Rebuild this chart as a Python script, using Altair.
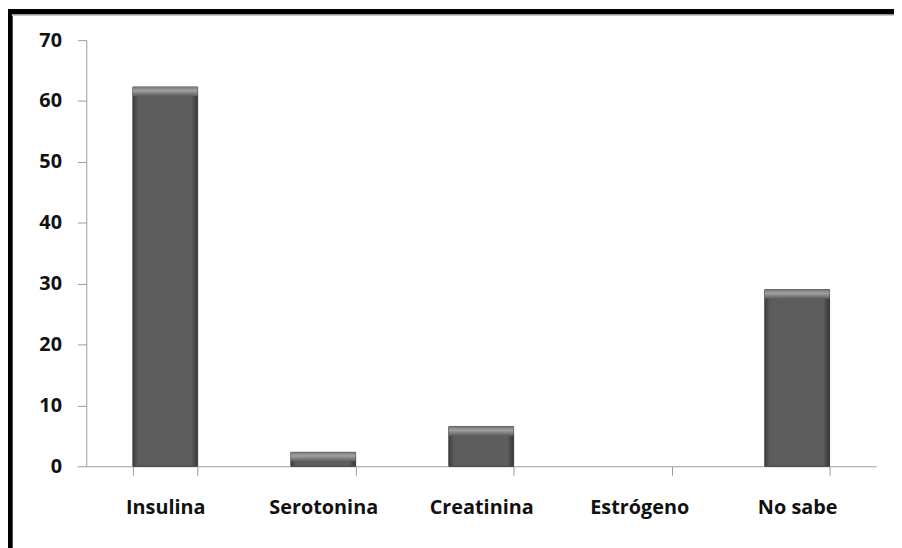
import altair as alt
import pandas as pd

categories = ["Insulina", "Serotonina", "Creatinina", "Estrógeno", "No sabe"]
values = [62.3, 2.3, 6.5, 0.0, 29.0]
y_ticks = [0, 10, 20, 30, 40, 50, 60, 70]

df = pd.DataFrame({"cat": categories, "val": values})

FONT = "Open Sans"

x_enc = alt.X("cat:N", sort=categories,
              scale=alt.Scale(domain=categories, paddingInner=0.59, paddingOuter=0.295),
              axis=alt.Axis(title=None, labelAngle=0, tickBand="extent",
                            domainColor="#9a9a9a", tickColor="#9a9a9a",
                            tickSize=9, labelPadding=23, labelFontSize=20,
                            labelFontWeight="bold", labelColor="#111111",
                            labelFont=FONT))
y_enc = alt.Y("val:Q", scale=alt.Scale(domain=[0, 70], nice=False),
              axis=alt.Axis(title=None, values=y_ticks, grid=False,
                            domainColor="#9a9a9a", tickColor="#9a9a9a",
                            tickSize=9, labelPadding=16, labelFontSize=20,
                            labelFontWeight="bold", labelColor="#111111",
                            labelFont=FONT))

side_grad = alt.Gradient(
    gradient="linear", x1=0, x2=1, y1=0, y2=0,
    stops=[alt.GradientStop(color="#3e3e3e", offset=0),
           alt.GradientStop(color="#5c5c5c", offset=0.08),
           alt.GradientStop(color="#5e5e5e", offset=0.9),
           alt.GradientStop(color="#383838", offset=1)])

pos = alt.Chart(df).transform_filter("datum.val > 0")

bars = pos.mark_bar(color=side_grad, stroke="#3a3a3a",
                    strokeWidth=1).encode(x=x_enc, y=y_enc)

top_grad = alt.Gradient(
    gradient="linear", x1=0, x2=0, y1=0, y2=1,
    stops=[alt.GradientStop(color="#7a7a7a", offset=0),
           alt.GradientStop(color="#a0a0a0", offset=0.4),
           alt.GradientStop(color="#5e5e5e", offset=1)])

bevel = pos.mark_bar(
    color=top_grad, y2Offset=9
).encode(x=x_enc, y=y_enc, y2="val:Q")

frame_left = alt.Chart(df).mark_rule(color="black", strokeWidth=4.5, clip=False).encode(
    x=alt.value(-77), y=alt.value(-31), y2=alt.value(520))
frame_top = alt.Chart(df).mark_rule(color="black", strokeWidth=5, clip=False).encode(
    x=alt.value(-79), x2=alt.value(830), y=alt.value(-28.5))
frame_shadow = alt.Chart(df).mark_rule(color="#c8c8c8", strokeWidth=1.5, clip=False).encode(
    x=alt.value(-75), x2=alt.value(830), y=alt.value(-25))

chart = alt.layer(bars, bevel, frame_left, frame_top, frame_shadow).properties(
    width=797, height=430,
    autosize=alt.AutoSizeParams(type="none"),
    padding={"left": 79, "top": 30, "right": 18, "bottom": 80},
    background="white",
).configure_view(stroke=None)

chart.save("out.html", embed_options={"renderer": "svg", "actions": False})
